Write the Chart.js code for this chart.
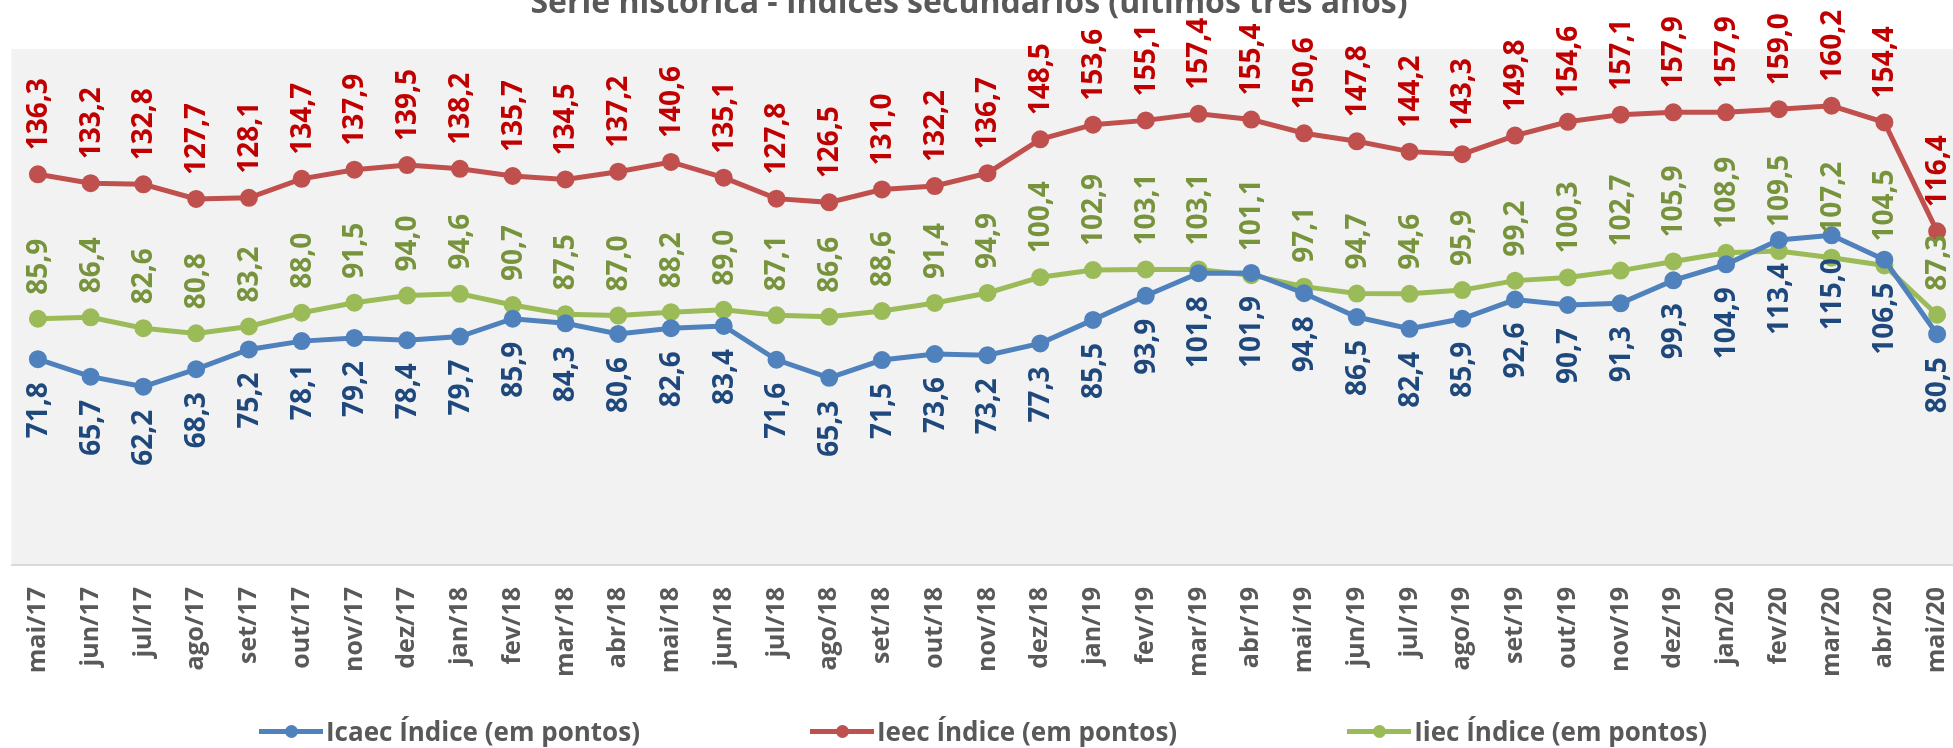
<!DOCTYPE html>
<html lang="pt">
<head>
<meta charset="utf-8">
<title>Série histórica - Índices secundários</title>
<script src="https://cdn.jsdelivr.net/npm/chart.js@4/dist/chart.umd.min.js"></script>
<style>
  html, body { margin: 0; padding: 0; background: #fff; overflow: hidden; width: 1953px; height: 748px; }
  #wrap { position: relative; width: 1953px; height: 748px; overflow: hidden; }
  #chart { display: block; width: 1975px; height: 748px; }
  #legend {
    position: absolute; left: 259px; top: 713px; display: flex; gap: 170px;
    font: bold 26px 'Open Sans', sans-serif; color: #595959; white-space: nowrap;
  }
  .item { display: flex; align-items: center; }
  .mark { position: relative; width: 64px; height: 5px; margin-right: 3px; }
  .mark i { position: absolute; left: 26px; top: -4px; width: 13px; height: 13px; border-radius: 50%; }
</style>
</head>
<body>
<div id="wrap">
  <canvas id="chart" width="1975" height="748"></canvas>
  <div id="legend"></div>
</div>
<script>
// ------------------------------------------------------------
// dados
// ------------------------------------------------------------
const TITLE = 'Série histórica - Índices secundários (últimos três anos)';

const months = [
  'mai/17', 'jun/17', 'jul/17', 'ago/17', 'set/17', 'out/17', 'nov/17', 'dez/17',
  'jan/18', 'fev/18', 'mar/18', 'abr/18', 'mai/18', 'jun/18', 'jul/18', 'ago/18',
  'set/18', 'out/18', 'nov/18', 'dez/18', 'jan/19', 'fev/19', 'mar/19', 'abr/19',
  'mai/19', 'jun/19', 'jul/19', 'ago/19', 'set/19', 'out/19', 'nov/19', 'dez/19',
  'jan/20', 'fev/20', 'mar/20', 'abr/20', 'mai/20'
];

const icaec = [
  71.8, 65.7, 62.2, 68.3, 75.2, 78.1, 79.2, 78.4, 79.7, 85.9, 84.3, 80.6, 82.6,
  83.4, 71.6, 65.3, 71.5, 73.6, 73.2, 77.3, 85.5, 93.9, 101.8, 101.9, 94.8, 86.5,
  82.4, 85.9, 92.6, 90.7, 91.3, 99.3, 104.9, 113.4, 115.0, 106.5, 80.5
];

const ieec = [
  136.3, 133.2, 132.8, 127.7, 128.1, 134.7, 137.9, 139.5, 138.2, 135.7, 134.5, 137.2, 140.6,
  135.1, 127.8, 126.5, 131.0, 132.2, 136.7, 148.5, 153.6, 155.1, 157.4, 155.4, 150.6, 147.8,
  144.2, 143.3, 149.8, 154.6, 157.1, 157.9, 157.9, 159.0, 160.2, 154.4, 116.4
];

const iiec = [
  85.9, 86.4, 82.6, 80.8, 83.2, 88.0, 91.5, 94.0, 94.6, 90.7, 87.5, 87.0, 88.2,
  89.0, 87.1, 86.6, 88.6, 91.4, 94.9, 100.4, 102.9, 103.1, 103.1, 101.1, 97.1, 94.7,
  94.6, 95.9, 99.2, 100.3, 102.7, 105.9, 108.9, 109.5, 107.2, 104.5, 87.3
];

const fmt = v => v.toFixed(1).replace('.', ',');

function serie(label, data, color, labelColor, labelPos) {
  return {
    label, data,
    borderColor: color, backgroundColor: color,
    pointBackgroundColor: color, pointBorderColor: color,
    borderWidth: 5, pointRadius: 6.5, pointHoverRadius: 6.5,
    tension: 0, labelColor, labelPos
  };
}

// ------------------------------------------------------------
// plugins
// ------------------------------------------------------------
const plotBg = {
  id: 'plotBg',
  beforeDraw(chart) {
    const { ctx, chartArea: a } = chart;
    ctx.save();
    ctx.fillStyle = '#f2f2f2';
    ctx.fillRect(a.left, a.top, a.right - a.left, a.bottom - a.top);
    ctx.restore();
  }
};

// rótulos de dados rodados (acima ou abaixo do ponto)
const pointLabels = {
  id: 'pointLabels',
  afterDatasetsDraw(chart) {
    const ctx = chart.ctx;
    chart.data.datasets.forEach((ds, i) => {
      const meta = chart.getDatasetMeta(i);
      meta.data.forEach((pt, j) => {
        ctx.save();
        ctx.translate(pt.x, pt.y);
        ctx.rotate(-Math.PI / 2);
        ctx.font = "bold 28px 'Open Sans', sans-serif";
        ctx.fillStyle = ds.labelColor;
        ctx.textBaseline = 'middle';
        if (ds.labelPos === 'above') {
          ctx.textAlign = 'left';
          ctx.fillText(fmt(ds.data[j]), 24, 1);
        } else {
          ctx.textAlign = 'right';
          ctx.fillText(fmt(ds.data[j]), -23, 1);
        }
        ctx.restore();
      });
    });
  }
};

const cutTitle = {
  id: 'cutTitle',
  afterDraw(chart) {
    const ctx = chart.ctx;
    ctx.save();
    ctx.font = "bold 32px 'Open Sans', sans-serif";
    ctx.fillStyle = '#595959';
    ctx.textAlign = 'center';
    ctx.textBaseline = 'alphabetic';
    ctx.fillText(TITLE, 969, 13);
    ctx.restore();
  }
};

// ------------------------------------------------------------
// gráfico
// ------------------------------------------------------------
Chart.defaults.font.family = "'Open Sans', sans-serif";

const chart = new Chart(document.getElementById('chart'), {
  type: 'line',
  data: {
    labels: months,
    datasets: [
      serie('Icaec Índice (em pontos)', icaec, '#4f81bd', '#1f497d', 'below'),
      serie('Ieec Índice (em pontos)', ieec, '#c0504d', '#c00000', 'above'),
      serie('Iiec Índice (em pontos)', iiec, '#9bbb59', '#77933c', 'above')
    ]
  },
  options: {
    responsive: false,
    animation: false,
    layout: { padding: { top: 49, left: 9.5, right: 7, bottom: 0 } },
    plugins: {
      legend: { display: false },
      title: { display: false },
      tooltip: { enabled: false }
    },
    scales: {
      x: {
        offset: true,
        grid: { display: false, drawTicks: false },
        border: { display: true, color: '#d9d9d9', width: 2 },
        ticks: {
          autoSkip: false, minRotation: 90, maxRotation: 90, padding: 22,
          color: '#595959', font: { size: 25, weight: 'bold' }
        },
        afterFit: s => {
          s.height = 183;
          // sem margem extra para o último rótulo: a área continua para lá da margem direita
          s.paddingLeft = 0;
          s.paddingRight = 0;
        }
      },
      y: { display: false, min: 0, max: 180 }
    }
  },
  plugins: [plotBg, pointLabels, cutTitle]
});

// legenda em HTML, a partir dos datasets
const leg = document.getElementById('legend');
chart.data.datasets.forEach(ds => {
  const it = document.createElement('div');
  it.className = 'item';
  it.innerHTML = '<span class="mark" style="background:' + ds.borderColor + '"><i style="background:' +
    ds.borderColor + '"></i></span><span>' + ds.label + '</span>';
  leg.appendChild(it);
});
</script>
</body>
</html>
